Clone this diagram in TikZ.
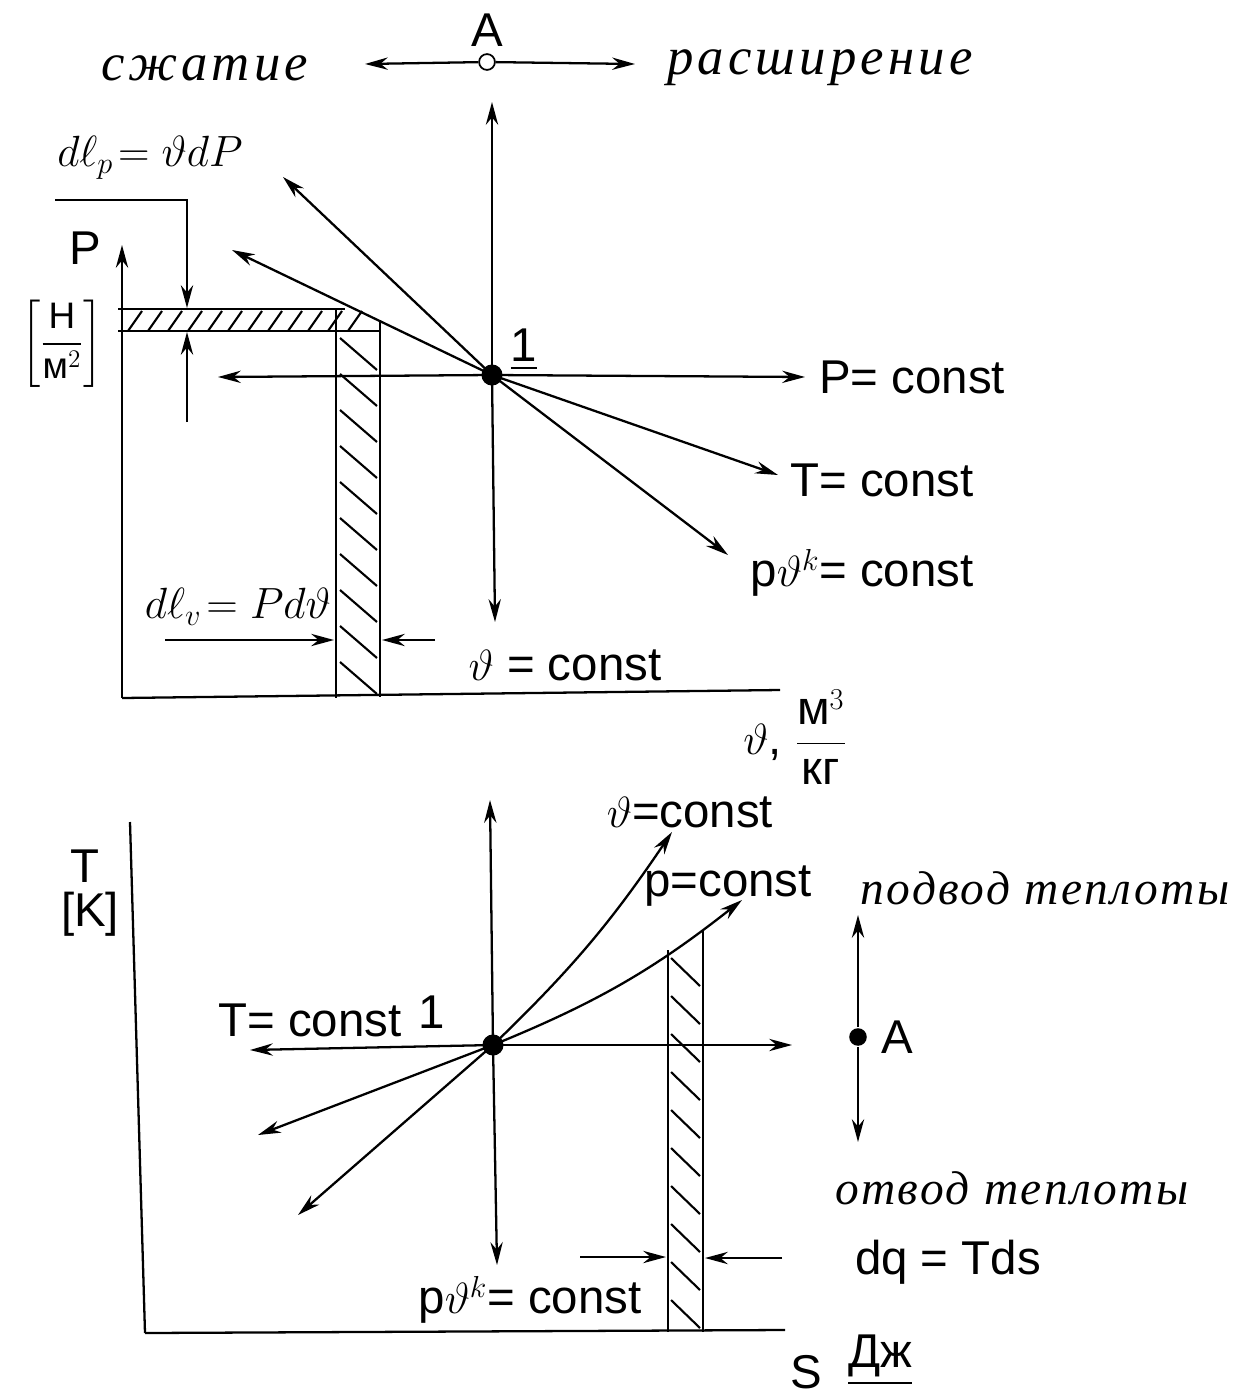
\documentclass[tikz,border=0pt]{standalone}
\usepackage{amsmath}
\usepackage{fontspec}
\setmainfont{Liberation Sans}
\setsansfont{Liberation Sans}
\newfontfamily\rufont{Liberation Serif}[LetterSpace=8]
\newfontfamily\rufontb{Liberation Serif}[LetterSpace=5]
\usetikzlibrary{arrows.meta, positioning}
\tikzset{
    >={Stealth[length=13pt,width=7pt]}, % narrow arrow heads
    pt/.style={circle, fill, inner sep=0pt, minimum size=12pt}, % state point
    lbl/.style={font=\fontsize{27}{31}\selectfont, inner sep=1pt},
    word/.style={font=\rufont\itshape\fontsize{30}{34}\selectfont, inner sep=1pt},
    heat/.style={font=\rufontb\itshape\fontsize{27}{31}\selectfont, inner sep=1pt},
    hatch/.style={line width=1.2pt}
}

\begin{document}
\begin{tikzpicture}[x=0.02cm, y=-0.02cm, line width=1.3pt]
    \useasboundingbox (0,0) rectangle (1241,1396);

    % p-v diagram
    \node[circle, draw, inner sep=0pt, minimum size=9pt, line width=1pt] (a1) at (487,62) {};
    \node[lbl, above=2pt of a1] (a1l) {A};
    \node[word] (comp) at (205,68) {сжатие};
    \node[word] (expn) at (820,68) {расширение};
    \coordinate (cl) at (365,64);
    \coordinate (cr) at (635,64);

    \node[pt] (p1) at (492,375) {};
    \node[lbl] (one) at (524,350) {\underline{1}};
    \coordinate (up1) at (492,102);
    \coordinate (dn1) at (495,622);
    \coordinate (lf1) at (218,377);
    \coordinate (rt1) at (805,377);
    \coordinate (al1) at (283,177);
    \coordinate (ar1) at (728,555);
    \coordinate (tl1) at (232,250);
    \coordinate (tr1) at (778,475);

    \coordinate (o1) at (122,698);
    \coordinate (py) at (122,245);
    \coordinate (vx) at (780,690);

    \node[lbl] (plab) at (85,248) {P};
    \node[lbl, font=\fontsize{21}{25}\selectfont, inner sep=0pt] (punit) at (62,344) {$\left[\dfrac{\text{Н}}{\text{м}^2}\right]$};
    \node[lbl] (vlab) at (795,737) {$\vartheta$, $\dfrac{\text{м}^3}{\text{кг}}$};

    \node[lbl] (pc1) at (912,377) {P= const};
    \node[lbl] (tc1) at (882,480) {T= const};
    \node[lbl] (sc1) at (862,573) {p$\vartheta^k$= const};
    \node[lbl] (vc1) at (565,665) {$\vartheta$ = const};

    \node[lbl] (dlp) at (150,158) {$d\ell_p\!=\vartheta dP$};
    \node[lbl] (dlv) at (238,607) {$d\ell_v\!=P d\vartheta$};
    \coordinate (lp1) at (55,200);
    \coordinate (lp2) at (187,308);
    \coordinate (lp3) at (187,422);
    \coordinate (lp4) at (187,332);
    \coordinate (lv1) at (165,640);
    \coordinate (lv2) at (334,640);
    \coordinate (lv3) at (435,640);
    \coordinate (lv4) at (382,640);

    \draw[->] (a1) -- (cl);
    \draw[->] (a1) -- (cr);
    \draw[->] (o1) -- (py);
    \draw (o1) -- (vx);
    \draw[->] (p1.center) -- (up1);
    \draw[->] (p1.center) -- (dn1);
    \draw[->] (p1.center) -- (lf1);
    \draw[->] (p1.center) -- (rt1);
    \draw[->] (p1.center) -- (al1);
    \draw[->] (p1.center) -- (ar1);
    \draw[->] (p1.center) -- (tl1);
    \draw[->] (p1.center) -- (tr1);
    \draw[->] (lp1) -| (lp2);
    \draw[->] (lp3) -- (lp4);
    \draw[->] (lv1) -- (lv2);
    \draw[->] (lv3) -- (lv4);

    % hatched strips dl_p and dl_v
    \draw (118,309) -- (345,309);
    \draw (118,331) -- (380,331);
    \foreach \x in {128,148,...,348}
        \draw[hatch] (\x,331) -- (\x+14,311);
    \draw (336,309) -- (336,698);
    \draw (380,322) -- (380,697);
    \foreach \y in {338,374,...,662}
        \draw[hatch] (340,\y) -- (377,\y+32);

    % T-s diagram
    \node[pt] (p2) at (493,1045) {};
    \node[lbl] (two) at (432,1012) {1};
    \coordinate (up2) at (490,800);
    \coordinate (dn2) at (497,1265);
    \coordinate (lf2) at (250,1050);
    \coordinate (rt2) at (792,1045);
    \coordinate (vu2) at (672,832);
    \coordinate (vd2) at (298,1215);
    \coordinate (pu2) at (742,900);
    \coordinate (pd2) at (258,1135);

    \coordinate (o2) at (145,1333);
    \coordinate (ty) at (130,822);
    \coordinate (sx) at (785,1330);

    \node[lbl] (tlab) at (85,866) {T};
    \node[lbl] (tunit) at (90,914) {[K]};
    \node[lbl] (slab) at (806,1372) {S};
    \node[lbl] (sunit) at (880,1360) {\underline{Дж}};

    \node[lbl] (tc2) at (310,1020) {T= const};
    \node[lbl] (vc2) at (690,812) {$\vartheta$=const};
    \node[lbl] (pc2) at (728,886) {p=const};
    \node[lbl] (sc2) at (530,1300) {p$\vartheta^k$= const};
    \node[lbl] (dq) at (948,1262) {dq = Tds};

    \node[pt, minimum size=10pt] (a2) at (858,1037) {};
    \node[lbl, right=6pt of a2] (a2l) {A};
    \coordinate (au2) at (858,915);
    \coordinate (ad2) at (858,1142);
    \node[heat] (heatin) at (1045,888) {подвод теплоты};
    \node[heat] (heatout) at (1012,1188) {отвод теплоты};

    \coordinate (lq1) at (580,1257);
    \coordinate (lq2) at (666,1257);
    \coordinate (lq3) at (782,1258);
    \coordinate (lq4) at (705,1258);

    \draw (o2) -- (ty);
    \draw (o2) -- (sx);
    \draw[->] (p2.center) -- (up2);
    \draw[->] (p2.center) -- (dn2);
    \draw[->] (p2.center) -- (lf2);
    \draw[->] (p2.center) -- (rt2);
    \draw[->] (p2.center) to[bend right=6] (vu2);
    \draw[->] (p2.center) -- (vd2);
    \draw[->] (p2.center) to[bend right=8] (pu2);
    \draw[->] (p2.center) -- (pd2);
    \draw[->] (a2) -- (au2);
    \draw[->] (a2) -- (ad2);
    \draw[->] (lq1) -- (lq2);
    \draw[->] (lq3) -- (lq4);

    % hatched strip dq
    \draw (703,930) -- (703,1332);
    \draw (668,950) -- (668,1332);
    \foreach \y in {958,996,...,1300}
        \draw[hatch] (671,\y) -- (700,\y+28);

\end{tikzpicture}
\end{document}
